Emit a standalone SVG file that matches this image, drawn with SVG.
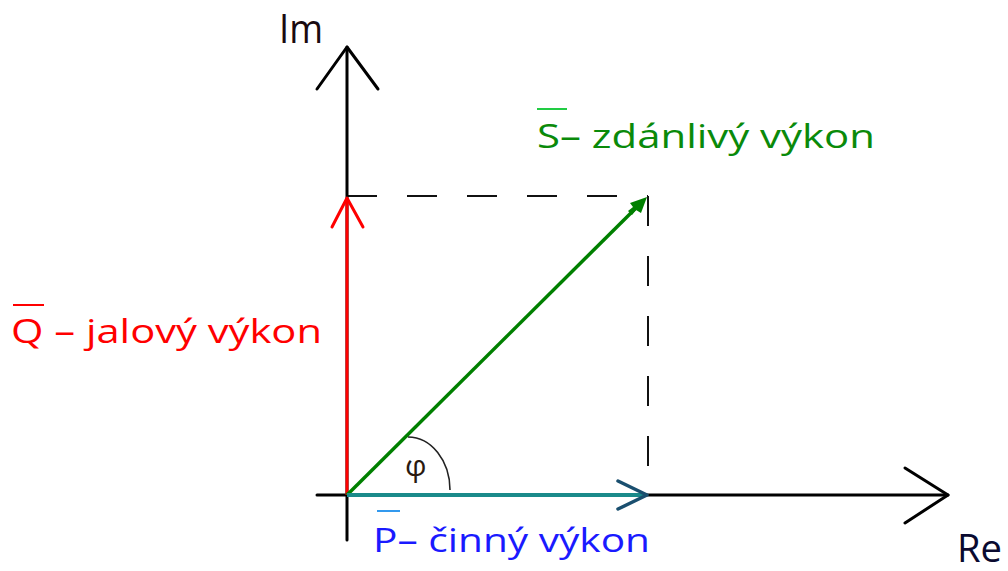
<svg xmlns="http://www.w3.org/2000/svg" width="1008" height="571" viewBox="0 0 1008 571">
<style>
.ax{stroke:#000;stroke-width:3;fill:none;stroke-linecap:round;stroke-linejoin:round}
.dash{stroke:#111;stroke-width:2;fill:none;stroke-dasharray:30 30}
.lbl{font-family:"Open Sans","DejaVu Sans",sans-serif;font-size:32px}
</style>
<rect width="1008" height="571" fill="#fff"/>
<g id="guides">
<path class="dash" d="M347,196 H648"/>
<path class="dash" d="M648,196 V495"/>
</g>
<g id="axes">
<path class="ax" d="M347,47 V540"/>
<path class="ax" d="M317,89 L347,47 L378,89"/>
<path class="ax" d="M317,495 H948"/>
<path class="ax" d="M905,468 L948,495 L905,523"/>
</g>
<g id="connectors">
<g id="vecQ">
<path d="M347,495 V198" stroke="#ff0000" stroke-width="3" fill="none"/>
<path d="M332,227 L347,198 L363,227" stroke="#ff0000" stroke-width="3" fill="none" stroke-linejoin="round" stroke-linecap="round"/>
</g>
<g id="vecS">
<path d="M347,495 L640,204" stroke="#008000" stroke-width="3.5" fill="none"/>
<polygon points="647,197 641,213 636,210 632,215 628,211 633,207 630,203" fill="#008000"/>
</g>
<g id="vecP">
<path d="M347,495 H646" stroke="#1a8a8a" stroke-width="4" fill="none"/>
<path d="M618,481 L647,495 L618,509" stroke="#1a4f6f" stroke-width="3.5" fill="none" stroke-linecap="round" stroke-linejoin="round"/>
</g>
<path id="angle" d="M408,437 A42,53 0 0 1 450,490" stroke="#222" stroke-width="1.6" fill="none"/>
</g>
<g id="labels">
<text class="lbl" x="279" y="43" fill="#1a0a10" textLength="44" lengthAdjust="spacingAndGlyphs" style="font-size:40px">Im</text>
<text class="lbl" x="957" y="562" fill="#0a0a30" textLength="45" lengthAdjust="spacingAndGlyphs" style="font-size:38px">Re</text>
<g id="labelS">
<line x1="537" y1="109" x2="567" y2="109" stroke="#22cc44" stroke-width="2"/>
<text class="lbl" x="537" y="148" fill="#0a8a0a" textLength="338" lengthAdjust="spacingAndGlyphs">S– zdánlivý výkon</text>
</g>
<g id="labelQ">
<line x1="13" y1="305" x2="44" y2="305" stroke="#ff0000" stroke-width="2"/>
<text class="lbl" x="11" y="343" fill="#ff0000" textLength="311" lengthAdjust="spacingAndGlyphs">Q – jalový výkon</text>
</g>
<g id="labelP">
<line x1="377" y1="511" x2="400" y2="511" stroke="#3399ee" stroke-width="2"/>
<text class="lbl" x="373" y="552" fill="#1a1aff" textLength="277" lengthAdjust="spacingAndGlyphs" style="font-size:33px">P– činný výkon</text>
</g>
<text class="lbl" x="405" y="476" fill="#2a1a10" style="font-size:30px">φ</text>
</g>
</svg>
